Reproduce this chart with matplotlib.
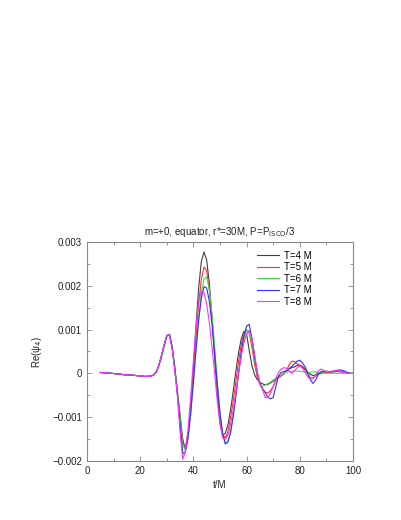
import numpy as np
import matplotlib
matplotlib.use('Agg')
import matplotlib.pyplot as plt

plt.rcParams['font.family'] = ['Liberation Sans', 'DejaVu Sans']
plt.rcParams['font.size'] = 7

# sample times (t/M)
t = [5, 8, 11, 14, 17, 20, 22, 24, 25, 26, 27, 28, 29, 30, 31, 32, 33, 34,
     35, 36, 37, 38, 39, 40, 41, 42, 43, 44, 45, 46, 47, 48, 49, 50,
     51, 52, 53, 54, 55, 56, 57, 58, 59, 60, 61, 62, 63, 64, 65, 66,
     67, 68, 69, 70, 71, 72, 73, 74, 75, 76, 77, 78, 79, 80, 81, 82,
     83, 84, 85, 86, 87, 88, 89, 90, 91, 92, 93, 94, 95, 96, 97, 98, 99, 100]

# Re(psi_4) in units of 1e-3
re_T4 = [0.02, 0.01, -0.01, -0.03, -0.04, -0.06, -0.07, -0.06, -0.04, 0.03, 0.17, 0.38, 0.62, 0.85, 0.89, 0.62, 0.15, -0.40,
         -0.95, -1.50, -1.76, -1.47, -0.80, 0.10, 1.09, 1.96, 2.56, 2.77, 2.59, 2.05, 1.26, 0.37, -0.47, -1.10,
         -1.40, -1.37, -1.17, -0.83, -0.40, 0.06, 0.48, 0.79, 0.96, 0.90, 0.52, 0.18, -0.03, -0.14, -0.20, -0.24,
         -0.26, -0.25, -0.22, -0.18, -0.13, -0.08, -0.04, 0.00, 0.06, 0.10, 0.13, 0.15, 0.18, 0.19, 0.16, 0.10,
         0.03, -0.02, -0.05, -0.03, 0.00, 0.01, 0.02, 0.02, 0.03, 0.03, 0.04, 0.04, 0.04, 0.03, 0.02, 0.01, 0.00, 0.00]
re_T5 = [0.02, 0.01, -0.01, -0.03, -0.04, -0.06, -0.07, -0.06, -0.04, 0.03, 0.18, 0.40, 0.64, 0.86, 0.89, 0.60, 0.12, -0.45,
         -1.05, -1.60, -1.67, -1.37, -0.78, -0.01, 0.83, 1.59, 2.15, 2.43, 2.35, 1.90, 1.29, 0.48, -0.33, -0.99,
         -1.39, -1.47, -1.33, -1.00, -0.63, -0.17, 0.28, 0.66, 0.91, 1.00, 0.92, 0.60, 0.22, -0.08, -0.25, -0.35,
         -0.43, -0.45, -0.39, -0.30, -0.17, -0.10, -0.06, -0.02, 0.06, 0.20, 0.28, 0.27, 0.22, 0.18, 0.14, 0.08,
         0.00, -0.10, -0.10, -0.06, -0.02, 0.00, 0.01, 0.02, 0.03, 0.04, 0.04, 0.05, 0.05, 0.04, 0.02, 0.00, 0.00, 0.00]
re_T6 = [0.02, 0.01, -0.01, -0.03, -0.04, -0.06, -0.07, -0.06, -0.04, 0.03, 0.18, 0.40, 0.64, 0.86, 0.89, 0.60, 0.12, -0.45,
         -1.00, -1.65, -1.73, -1.46, -0.93, -0.23, 0.54, 1.27, 1.84, 2.16, 2.20, 1.91, 1.35, 0.61, -0.18, -0.89,
         -1.40, -1.62, -1.57, -1.34, -0.96, -0.49, 0.01, 0.45, 0.79, 0.98, 0.97, 0.70, 0.32, 0.00, -0.24, -0.30,
         -0.27, -0.23, -0.20, -0.15, -0.11, -0.07, -0.04, 0.00, 0.03, 0.04, 0.05, 0.05, 0.05, 0.05, 0.04, 0.02,
         0.00, 0.02, 0.04, 0.03, 0.01, 0.02, 0.01, 0.00, 0.00, 0.00, 0.00, 0.00, 0.00, 0.00, 0.00, 0.00, 0.00, 0.00]
re_T7 = [0.02, 0.01, -0.01, -0.03, -0.04, -0.06, -0.07, -0.06, -0.04, 0.03, 0.18, 0.40, 0.64, 0.86, 0.89, 0.60, 0.11, -0.48,
         -1.15, -1.83, -1.79, -1.46, -0.90, -0.19, 0.55, 1.22, 1.72, 1.98, 1.95, 1.65, 1.12, 0.44, -0.27, -0.91,
         -1.37, -1.60, -1.56, -1.34, -0.97, -0.50, 0.01, 0.49, 0.86, 1.08, 1.12, 0.80, 0.38, 0.03, -0.24, -0.35,
         -0.44, -0.55, -0.58, -0.55, -0.30, -0.06, 0.02, 0.04, 0.06, 0.11, 0.16, 0.22, 0.28, 0.30, 0.24, 0.15,
         0.00, -0.15, -0.23, -0.15, -0.02, 0.04, 0.05, 0.05, 0.04, 0.04, 0.05, 0.07, 0.08, 0.07, 0.05, 0.02, 0.00, 0.00]
re_T8 = [0.02, 0.01, -0.01, -0.03, -0.04, -0.06, -0.07, -0.06, -0.04, 0.03, 0.19, 0.42, 0.66, 0.87, 0.88, 0.56, 0.08, -0.52,
         -1.35, -1.96, -1.78, -1.27, -0.53, 0.30, 1.08, 1.64, 1.89, 1.84, 1.58, 1.16, 0.61, 0.00, -0.64, -1.16,
         -1.47, -1.51, -1.40, -1.16, -0.82, -0.42, 0.00, 0.39, 0.70, 0.90, 0.98, 0.82, 0.45, 0.05, -0.22, -0.37,
         -0.55, -0.55, -0.45, -0.30, -0.12, 0.03, 0.10, 0.13, 0.12, 0.05, 0.00, 0.06, 0.13, 0.17, 0.12, 0.02,
         -0.08, -0.14, -0.12, -0.03, 0.06, 0.10, 0.07, 0.04, 0.04, 0.05, 0.06, 0.07, 0.07, 0.04, 0.02, 0.00, 0.00, 0.00]

series = [re_T4, re_T5, re_T6, re_T7, re_T8]
labels = ['T=4 M', 'T=5 M', 'T=6 M', 'T=7 M', 'T=8 M']
colors = ['#404040', '#ff3030', '#40e040', '#3030ff', '#ff30ff']

fig = plt.figure(figsize=(4.02, 5.2), dpi=100)
fig.subplots_adjust(left=0.2164, right=0.878, bottom=0.1135, top=0.5346)
ax = fig.add_subplot(111)

for vals, lab, col in zip(series, labels, colors):
    ax.plot(t, np.array(vals) * 1e-3, color=col, lw=0.8, label=lab)

ax.set_xlim(0, 100)
ax.set_ylim(-0.002, 0.003)
ax.set_xticks([0, 20, 40, 60, 80, 100])
ax.set_xticks(np.arange(0, 101, 10), minor=True)
ax.set_yticks([-0.002, -0.001, 0, 0.001, 0.002, 0.003])
ax.set_yticklabels(['\u22120.002', '\u22120.001', '0', '0.001', '0.002', '0.003'])
ax.set_yticks(np.arange(-0.002, 0.00301, 0.0005), minor=True)
ax.tick_params(which='both', direction='in', top=True, right=True, colors='#888888',
               labelcolor='#222222', pad=3.5)
ax.tick_params(which='major', length=3.5, width=0.6)
ax.tick_params(which='minor', length=2, width=0.6)
for sp in ax.spines.values():
    sp.set_color('#888888')
    sp.set_linewidth(0.8)

ax.set_title('m=+0, equator, r*=30M, P=P$_{\\rm ISCO}$/3', fontsize=7, pad=5, color='#222222')
ax.set_xlabel('t/M', color='#222222', labelpad=3)
ax.set_ylabel('Re(\u03c8$_4$)', color='#222222', labelpad=6)

ax.legend(loc='upper left', bbox_to_anchor=(0.64, 0.96), frameon=False,
          handlelength=2.2, handletextpad=0.6, labelspacing=0.15,
          borderpad=0, borderaxespad=0)

fig.savefig('out.png', dpi=100)
